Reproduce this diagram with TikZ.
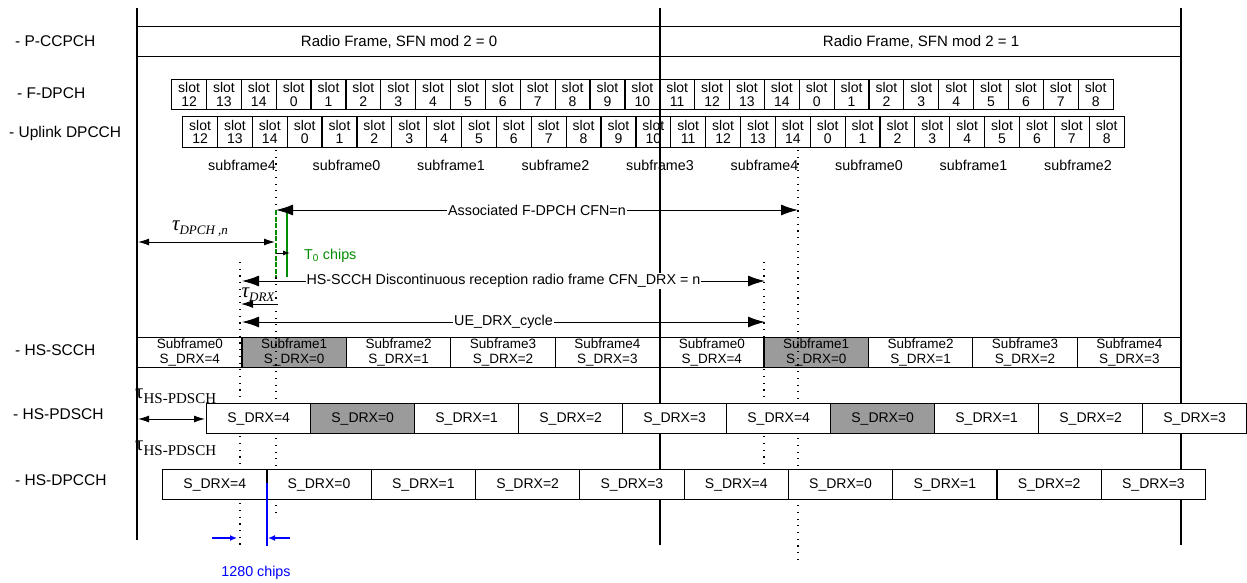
\documentclass[tikz,border=0pt]{standalone}
\usepackage{fontspec}
\setmainfont{Liberation Sans}
\newfontfamily\tms{Liberation Serif}
\usetikzlibrary{arrows.meta}
\definecolor{boxgrey}{RGB}{155,155,155}
\definecolor{tgreen}{RGB}{0,140,0}
\definecolor{tblue}{RGB}{0,0,255}
\begin{document}
\begin{tikzpicture}[x=1pt,y=-1pt,
  txt/.style={font=\fontsize{14.3}{15}\selectfont, inner sep=0pt},
  chlabel/.style={font=\fontsize{15.5}{16}\selectfont, inner sep=0pt, anchor=west},
  slotbox/.style={draw, line width=1.2pt, minimum width=34.87pt, minimum height=30pt, anchor=north west, inner sep=0pt, align=center, font=\fontsize{14}{13.5}\selectfont},
  sfbox/.style={draw, line width=1.2pt, minimum width=104.4pt, minimum height=30pt, anchor=north west, inner sep=0pt, align=center, font=\fontsize{13.5}{14.5}\selectfont},
  drxbox/.style={draw, line width=1.2pt, minimum width=104.2pt, minimum height=30pt, anchor=north west, inner sep=0pt, font=\fontsize{14}{15}\selectfont},
  mainline/.style={line width=1.4pt},
  dotline/.style={line width=1.2pt, dash pattern=on 1.2pt off 5.5pt},
  bigarrow/.style={line width=1pt, {Latex[length=17pt,width=11pt]}-{Latex[length=17pt,width=11pt]}},
  midarrow/.style={line width=1pt, {Latex[length=11pt,width=7pt]}-{Latex[length=11pt,width=7pt]}},
  lbl/.style={txt, fill=white, inner sep=1pt},
  tau/.style={inner sep=0pt, font=\tms\fontsize{21}{21}\selectfont}
]
\useasboundingbox (0,0) rectangle (1247,583);

% channel labels
\node[chlabel] (lp) at (15,41) {- P-CCPCH};
\node[chlabel] (lf) at (17,93) {- F-DPCH};
\node[chlabel] (lu) at (9,133) {- Uplink DPCCH};
\node[chlabel] (ls) at (15,350) {- HS-SCCH};
\node[chlabel] (lpd) at (13,414) {- HS-PDSCH};
\node[chlabel] (ldp) at (15,480) {- HS-DPCCH};

% P-CCPCH frames
\node[draw, line width=1.2pt, minimum width=523pt, minimum height=30pt, anchor=north west, inner sep=0pt, font=\fontsize{15}{16}\selectfont] (rf0) at (137,26) {Radio Frame, SFN mod 2 = 0};
\node[draw, line width=1.2pt, minimum width=521pt, minimum height=30pt, anchor=north west, inner sep=0pt, font=\fontsize{15}{16}\selectfont] (rf1) at (660,26) {Radio Frame, SFN mod 2 = 1};

% F-DPCH slots
\foreach \n [count=\i from 0] in {12,13,14,0,1,2,3,4,5,6,7,8,9,10,11,12,13,14,0,1,2,3,4,5,6,7,8}
  \node[slotbox] (fd\i) at ({171+34.87*\i},79) {slot\\\n};
% Uplink DPCCH slots
\foreach \n [count=\i from 0] in {12,13,14,0,1,2,3,4,5,6,7,8,9,10,11,12,13,14,0,1,2,3,4,5,6,7,8}
  \node[slotbox, minimum height=31pt] (ul\i) at ({182+34.87*\i},116) {slot\\\n};

% subframe labels
\foreach \s [count=\i from 0] in {4,0,1,2,3,4,0,1,2}
  \node[txt] (sf\i) at ({242+104.5*\i},165) {subframe\s};

% HS-SCCH
\foreach \s/\d/\c [count=\i from 0] in {0/4/white,1/0/boxgrey,2/1/white,3/2/white,4/3/white,0/4/white,1/0/boxgrey,2/1/white,3/2/white,4/3/white}
  \node[sfbox, fill=\c] (sc\i) at ({137+104.4*\i},337) {Subframe\s\\S\_DRX=\d};

% main vertical lines
\coordinate (t0) at (137,8); \coordinate (b0) at (137,540);
\coordinate (t1) at (660,8); \coordinate (b1) at (660,545);
\coordinate (t2) at (1181,8); \coordinate (b2) at (1181,545);
\draw[mainline] (t0) -- (b0);
\draw[mainline] (t1) -- (b1);
\draw[mainline] (t2) -- (b2);

% dotted lines
\coordinate (d1t) at (240,262); \coordinate (d1b) at (240,545);
\coordinate (d2t) at (276,150); \coordinate (d2b) at (276,512);
\coordinate (d3t) at (764,262); \coordinate (d3b) at (764,497);
\coordinate (d4t) at (798,150); \coordinate (d4b) at (798,560);
\draw[dotline] (d1t) -- (d1b);
\draw[dotline] (d2t) -- (d2b);
\draw[dotline] (d3t) -- (d3b);
\draw[dotline] (d4t) -- (d4b);

% HS-PDSCH
\foreach \d/\c [count=\i from 0] in {4/white,0/boxgrey,1/white,2/white,3/white,4/white,0/boxgrey,1/white,2/white,3/white}
  \node[drxbox, fill=\c] (pd\i) at ({206+104*\i},403) {S\_DRX=\d};
% HS-DPCCH
\foreach \d [count=\i from 0] in {4,0,1,2,3,4,0,1,2,3}
  \node[drxbox, fill=white, minimum width=104.3pt] (dp\i) at ({162+104.3*\i},469) {S\_DRX=\d};

% green T0 lines
\coordinate (g1t) at (276,210); \coordinate (g1b) at (276,277);
\coordinate (g2t) at (287,210); \coordinate (g2b) at (287,277);
\draw[tgreen, line width=1.5pt] (g2t) -- (g2b);
\draw[tgreen, line width=1.5pt, dash pattern=on 5pt off 1.5pt] (g1t) -- (g1b);
\coordinate (t0a) at (276,253); \coordinate (t0b) at (290,253);
\draw[line width=1pt, -{Latex[length=7pt,width=5pt]}] (t0a) -- (t0b);
\node[txt, anchor=west, text=tgreen] (t0l) at (304,256) {T\textsubscript{0} chips};

% Associated F-DPCH
\coordinate (a1) at (276,210); \coordinate (a2) at (798,210);
\draw[bigarrow] (a1) -- node[lbl] (al) {Associated F-DPCH CFN=n} (a2);
% tau DPCH
\coordinate (p1) at (138,242); \coordinate (p2) at (275,242);
\draw[midarrow] (p1) -- (p2);
\node[tau] (tdp) at (200,229) {\itshape τ\raisebox{-0.45ex}{\fontsize{13}{13}\selectfont DPCH ,n}};

% HS-SCCH DRX frame
\coordinate (h1) at (242,281); \coordinate (h2) at (765,281);
\draw[bigarrow] (h1) -- node[lbl] (hl) {HS-SCCH Discontinuous reception radio frame CFN\_DRX = n} (h2);
% tau DRX
\coordinate (r1) at (278,304); \coordinate (r2) at (241,304);
\draw[line width=1pt, -{Latex[length=12pt,width=8pt]}] (r1) -- (r2);
\node[tau] (tdrx) at (258,295) {\itshape τ\raisebox{-0.45ex}{\fontsize{13}{13}\selectfont DRX}};
% UE DRX cycle
\coordinate (u1) at (242,322); \coordinate (u2) at (765,322);
\draw[bigarrow] (u1) -- node[lbl] (ulb) {UE\_DRX\_cycle} (u2);

% tau HS-PDSCH
\node[tau, anchor=west] (tpd1) at (135,396) {τ\raisebox{-0.5ex}{\fontsize{15}{15}\selectfont HS-PDSCH}};
\coordinate (s1) at (138,419); \coordinate (s2) at (205,419);
\draw[midarrow] (s1) -- (s2);
\node[tau, anchor=west] (tpd2) at (135,448) {τ\raisebox{-0.5ex}{\fontsize{15}{15}\selectfont HS-PDSCH}};

% 1280 chips
\coordinate (bl1) at (267,483); \coordinate (bl2) at (267,546);
\draw[tblue, line width=1.6pt] (bl1) -- (bl2);
\coordinate (ba1) at (212,538); \coordinate (ba2) at (237,538);
\coordinate (ba3) at (290,538); \coordinate (ba4) at (268,538);
\draw[tblue, line width=1.3pt, -{Latex[length=7pt,width=6pt]}] (ba1) -- (ba2);
\draw[tblue, line width=1.3pt, -{Latex[length=7pt,width=6pt]}] (ba3) -- (ba4);
\node[txt, text=tblue] (bch) at (256,573) {1280 chips};
\end{tikzpicture}
\end{document}
